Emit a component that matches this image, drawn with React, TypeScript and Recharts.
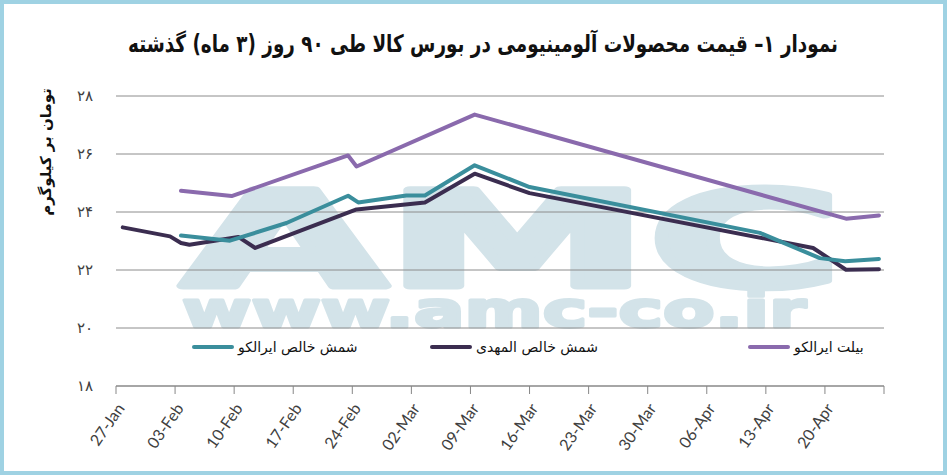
import { CartesianGrid, Line, LineChart, XAxis, YAxis } from "recharts";

// days counted from 27-Jan
const tickDays = [0, 7, 14, 21, 28, 35, 42, 49, 56, 63, 70, 77, 84, 91];
const tickLabels = [
  "27-Jan", "03-Feb", "10-Feb", "17-Feb", "24-Feb", "02-Mar", "09-Mar",
  "16-Mar", "23-Mar", "30-Mar", "06-Apr", "13-Apr", "20-Apr", "",
];
const yTicks = [18, 20, 22, 24, 26, 28];

const billetDays = [7.7, 13.7, 27.5, 28.5, 42.5, 86.5, 90.4];
const billetPrice = [24.73, 24.55, 25.95, 25.57, 27.36, 23.77, 23.88];

const mahdiDays = [0.8, 6.4, 7.7, 8.7, 14.5, 16.5, 28.5, 36.6, 42.5, 49, 82.6, 86.5, 90.4];
const mahdiPrice = [23.47, 23.16, 22.93, 22.87, 23.14, 22.76, 24.09, 24.33, 25.32, 24.65, 22.76, 22.01, 22.03];

const iralcoDays = [7.7, 13.5, 20.2, 27.5, 28.7, 34.4, 36.6, 42.5, 49, 76.3, 83.4, 86.4, 90.4];
const iralcoPrice = [23.19, 23.01, 23.62, 24.56, 24.33, 24.57, 24.57, 25.61, 24.86, 23.28, 22.41, 22.3, 22.38];

const faDigits = "۰۱۲۳۴۵۶۷۸۹";
const toFa = (n: number) => String(n).replace(/\d/g, (d) => faDigits[Number(d)]);

const toPoints = (days: number[], prices: number[]) =>
  days.map((day, i) => ({ day, price: prices[i] }));

const series = [
  { id: "billet", name: "بیلت ایرالکو", color: "#8a6aad", data: toPoints(billetDays, billetPrice), legendX: 748 },
  { id: "mahdi", name: "شمش خالص المهدی", color: "#3b2d50", data: toPoints(mahdiDays, mahdiPrice), legendX: 430 },
  { id: "iralco", name: "شمش خالص ایرالکو", color: "#3a8e9c", data: toPoints(iralcoDays, iralcoPrice), legendX: 192 },
];

const persianFont = "'DejaVu Sans', 'Noto Sans', sans-serif";
const watermark = "#d3e3e9";

export default function App() {
  return (
    <div style={{ position: "relative", width: 947, height: 475, background: "#fff" }}>
      <style>{"body{margin:0}"}</style>
      <svg width={947} height={475} style={{ position: "absolute", left: 0, top: 0 }}>
        <text
          x={182}
          y={286}
          fontFamily="'DejaVu Sans', sans-serif"
          fontWeight="bold"
          fontSize={132}
          textLength={660}
          lengthAdjust="spacingAndGlyphs"
          fill={watermark}
          stroke={watermark}
          strokeWidth={7}
          strokeLinejoin="round"
        >
          AMC
        </text>
        <text
          x={182}
          y={327}
          fontFamily="'DejaVu Sans', sans-serif"
          fontWeight="bold"
          fontSize={50}
          textLength={624}
          lengthAdjust="spacingAndGlyphs"
          fill={watermark}
          stroke={watermark}
          strokeWidth={3}
          strokeLinejoin="round"
        >
          www.amc-co.ir
        </text>
        <text
          x={483}
          y={52}
          textAnchor="middle"
          direction="rtl"
          fontFamily={persianFont}
          fontWeight="bold"
          fontSize={24}
          textLength={710}
          lengthAdjust="spacingAndGlyphs"
          fill="#111"
        >
          نمودار ۱– قیمت محصولات آلومینیومی در بورس کالا طی ۹۰ روز (۳ ماه) گذشته
        </text>
        <text
          x={0}
          y={0}
          transform="translate(51 152) rotate(-90)"
          textAnchor="middle"
          direction="rtl"
          fontFamily={persianFont}
          fontWeight="bold"
          fontSize={15}
          fill="#111"
        >
          تومان بر کیلوگرم
        </text>
      </svg>
      <div style={{ position: "absolute", left: 0, top: 0 }}>
        <LineChart width={947} height={475} margin={{ top: 96, right: 63, bottom: 19, left: 0 }}>
          <CartesianGrid vertical={false} stroke="#8c8c8c" />
          <XAxis
            type="number"
            dataKey="day"
            domain={[0, 91]}
            ticks={tickDays}
            interval={0}
            tickFormatter={(v: number) => tickLabels[tickDays.indexOf(v)] ?? ""}
            stroke="#878787"
            tickSize={8}
            tickMargin={8}
            height={70}
            angle={-55}
            textAnchor="end"
            tick={{ fill: "#404040", fontSize: 16, fontFamily: "Lato, sans-serif" }}
          />
          <YAxis
            type="number"
            domain={[18, 28]}
            ticks={yTicks}
            interval={0}
            axisLine={false}
            tickLine={false}
            tickSize={0}
            tickMargin={23}
            width={116}
            tickFormatter={(v: number) => toFa(v)}
            tick={{ fill: "#404040", fontSize: 15, fontFamily: persianFont }}
          />
          {series.map((s) => (
            <Line
              key={s.id}
              data={s.data}
              dataKey="price"
              name={s.name}
              stroke={s.color}
              strokeWidth={4}
              strokeLinejoin="round"
              strokeLinecap="round"
              dot={false}
              activeDot={false}
              isAnimationActive={false}
            />
          ))}
        </LineChart>
      </div>
      {series.map((s) => (
        <div
          key={s.id}
          style={{
            position: "absolute",
            left: s.legendX,
            top: 339,
            display: "flex",
            alignItems: "center",
            gap: 4,
            fontFamily: persianFont,
            fontSize: 14,
            color: "#111",
          }}
        >
          <span style={{ width: 42, height: 4, borderRadius: 2, background: s.color }} />
          <span dir="rtl">{s.name}</span>
        </div>
      ))}
      <div
        style={{
          position: "absolute",
          left: 0,
          top: 0,
          width: 947,
          height: 475,
          boxSizing: "border-box",
          border: "4px solid #9fd2e3",
          pointerEvents: "none",
        }}
      />
    </div>
  );
}
